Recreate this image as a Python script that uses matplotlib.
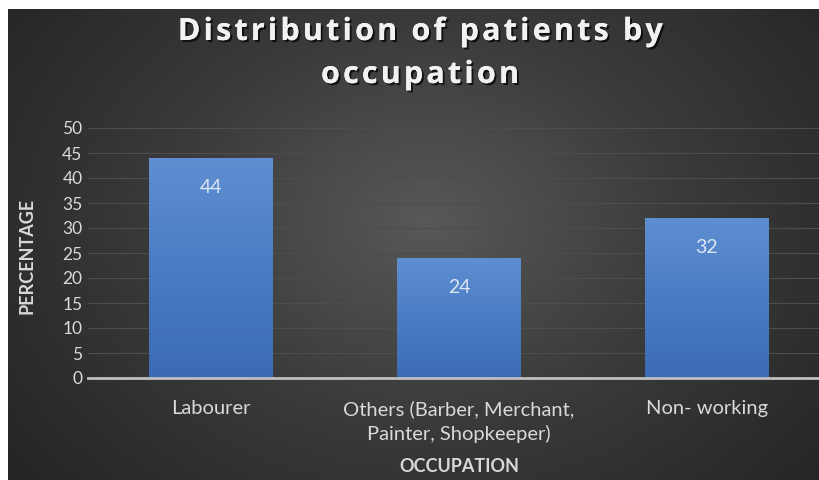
import numpy as np
import matplotlib
matplotlib.use("Agg")
from matplotlib import pyplot as plt
import matplotlib.patheffects as pe
from matplotlib.colors import LinearSegmentedColormap

categories = ["Labourer", "Others (Barber, Merchant,\nPainter, Shopkeeper)", "Non- working"]
values = [44, 24, 32]
yticks = [0, 5, 10, 15, 20, 25, 30, 35, 40, 45, 50]
title_lines = ["Distribution of patients by", "occupation"]

plt.rcParams['font.family'] = ['Lato', 'DejaVu Sans']

W, H = 819, 480
fig = plt.figure(figsize=(W / 100, H / 100), dpi=100)
fig.patch.set_facecolor('white')

# background: dark radial gradient, white strip on left/top
bg = fig.add_axes([8 / W, 0, 1 - 8 / W, 1 - 9 / H])
bg.axis('off')
yy, xx = np.mgrid[0:200, 0:340]
cx, cy = 175, 90
d = np.sqrt(((xx - cx) / 220.0) ** 2 + ((yy - cy) / 170.0) ** 2)
grad = np.clip(1 - d, 0, 1)
bgmap = LinearSegmentedColormap.from_list('bg', ['#252525', '#3a3a3a', '#585858'])
bg.imshow(grad, cmap=bgmap, aspect='auto', extent=[0, 1, 0, 1], vmin=0, vmax=1)
bg.set_xlim(0, 1)
bg.set_ylim(0, 1)

# main axes
x0, x1 = 88, 819
ytop, ybot = 128, 378
ax = fig.add_axes([x0 / W, (H - ybot) / H, (x1 - x0) / W, (ybot - ytop) / H])
ax.patch.set_alpha(0)
xpos = np.arange(len(categories))

bars = ax.bar(xpos, values, width=0.5, color='none', zorder=2)
barmap = LinearSegmentedColormap.from_list('bar', ['#3a6bb4', '#4a7cc4', '#5f8fd1'])
g = np.linspace(0, 1, 256).reshape(-1, 1)
for b in bars:
    im = ax.imshow(g, cmap=barmap, origin='lower', aspect='auto',
                   extent=[b.get_x(), b.get_x() + b.get_width(), 0, b.get_height()], zorder=2)
    im.set_clip_path(b)
    ax.annotate(str(int(b.get_height())), (b.get_x() + b.get_width() / 2, b.get_height()),
                xytext=(0, -21), textcoords='offset points', ha='center', va='center',
                color='#dce6f2', fontsize=14, zorder=3)
ax.set_xlim(-0.496, 2.452)
ax.set_ylim(0, 50)

ax.set_yticks(yticks)
ax.grid(axis='y', color='#4d4d4d', linewidth=0.8, zorder=0)
ax.set_axisbelow(True)
for s in ['top', 'right', 'left']:
    ax.spines[s].set_visible(False)
ax.spines['bottom'].set_color('#bfbfbf')
ax.spines['bottom'].set_linewidth(2)
ax.spines['bottom'].set_zorder(4)
ax.tick_params(axis='both', length=0, colors='#d9d9d9')
ax.tick_params(axis='y', pad=4, labelsize=12.5)
ax.tick_params(axis='x', pad=16, labelsize=14.5)
ax.set_xticks(xpos)
ax.set_xticklabels(categories, linespacing=1.45, va='top')

fig.text(27 / W, 1 - 256 / H, "PERCENTAGE", rotation=90, ha='center', va='center',
         color='#d9d9d9', fontsize=13, fontweight='bold')
fig.text(459 / W, 1 - 466 / H, "OCCUPATION", ha='center', va='center',
         color='#d9d9d9', fontsize=13, fontweight='bold')

# title with letter spacing, drawn char by char
shadow = [pe.withSimplePatchShadow(offset=(1.5, -1.5), shadow_rgbFace='black', alpha=0.7), pe.Normal()]
renderer = fig.canvas.get_renderer()
tkw = dict(fontsize=22, fontweight='bold', family=['Open Sans', 'DejaVu Sans'])
track = 3.2  # px between letters


def text_w(s):
    t = fig.text(0, 0, s, **tkw)
    w = t.get_window_extent(renderer).width
    t.remove()
    return w


for line, yc in zip(title_lines, [32, 75]):
    n = len(line)
    total = text_w(line) + track * (n - 1)
    left = 420 - total / 2
    for i, ch in enumerate(line):
        off = text_w(line[:i] + "|") - text_w("|") if i > 0 else 0
        fig.text((left + off + track * i) / W, 1 - yc / H, ch, ha='left', va='center',
                 color='#f2f2f2', path_effects=shadow, **tkw)

fig.savefig("out.png", dpi=100)
